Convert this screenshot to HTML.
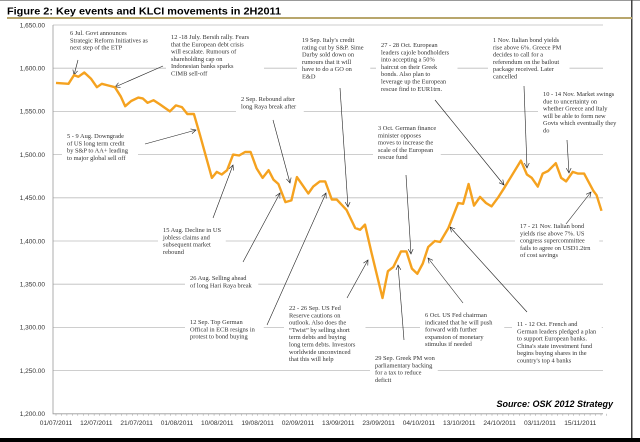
<!DOCTYPE html>
<html><head><meta charset="utf-8"><style>
html,body{margin:0;padding:0;background:#fff;}
svg{display:block;}
text{font-family:"Liberation Sans",sans-serif;}
.ann{font-family:"Liberation Serif",serif;font-size:6.4px;fill:#333;}
</style></head><body>
<svg id="chart" width="640" height="442" viewBox="0 0 640 442" xmlns="http://www.w3.org/2000/svg">
<defs><marker id="ah" markerWidth="6" markerHeight="6" refX="5" refY="3" orient="auto" markerUnits="userSpaceOnUse"><path d="M0,0.5 L5,3 L0,5.5" fill="none" stroke="#222" stroke-width="0.6"/></marker></defs>
<rect x="0" y="0" width="640" height="1" fill="#999"/>
<rect x="631" y="0" width="1.5" height="438" fill="#444"/>
<rect x="0" y="438" width="640" height="4" fill="#000"/>
<text x="7" y="14.5" font-size="10.5" font-weight="bold" fill="#000" textLength="274" lengthAdjust="spacingAndGlyphs">Figure 2: Key events and KLCI movements in 2H2011</text>
<rect x="7" y="17" width="625" height="2" fill="#b8a66c"/>
<g id="grid"></g><g id="axes"></g><g id="annots"></g><g id="series"></g>
<text x="613" y="407" text-anchor="end" font-family="Liberation Serif,serif" font-size="9" font-style="italic" font-weight="bold" fill="#000">Source: OSK 2012 Strategy</text>
</svg>
<script>
const dayIdx=[0,2.3,3.3,4.1,5.2,6.4,7.5,8.4,9.6,10.8,11.9,12.7,13.8,15.1,15.9,16.8,17.9,19.1,20.9,22.0,23.1,24.1,25.3,26.4,28.6,29.5,30.4,31.4,32.5,33.6,34.7,35.7,36.8,37.9,39.0,39.9,40.8,42.1,43.2,44.2,45.2,46.3,47.2,48.4,49.4,50.6,51.5,52.4,53.3,54.9,55.8,56.7,57.9,59.9,60.9,61.9,63.3,64.3,65.3,66.3,67.3,68.3,69.5,70.5,72.0,73.8,74.7,75.7,76.7,77.8,78.9,79.9,81.2,82.2,85.3,86.4,87.3,88.4,89.3,90.3,91.7,92.7,93.6,94.8,95.8,96.9,98.6,99.2,100.1];
const klci=[1583,1582,1592,1590,1595,1588,1578,1582,1580,1578,1567,1556,1562,1566,1565,1560,1563,1558,1550,1557,1555,1547,1547,1523,1473,1480,1477,1482,1500,1499,1503,1503,1484,1473,1482,1471,1466,1445,1447,1474,1465,1455,1463,1469,1469,1448,1448,1442,1436,1415,1413,1419,1386,1334,1365,1370,1388,1388,1368,1362,1374,1393,1400,1399,1415,1444,1443,1466,1441,1451,1444,1440,1451,1461,1493,1477,1473,1463,1478,1481,1490,1473,1469,1480,1478,1478,1458,1453,1435];
const yTicks=[1200,1250,1300,1350,1400,1450,1500,1550,1600,1650];
const yTickLabels=["1,200.00","1,250.00","1,300.00","1,350.00","1,400.00","1,450.00","1,500.00","1,550.00","1,600.00","1,650.00"];
const xLabels=["01/07/2011","12/07/2011","21/07/2011","01/08/2011","10/08/2011","19/08/2011","02/09/2011","13/09/2011","23/09/2011","04/10/2011","13/10/2011","24/10/2011","03/11/2011","15/11/2011"];
const xLabelIdx=[0,7.4,14.8,22.2,29.6,37.0,44.4,51.8,59.2,66.6,74.0,81.4,88.8,96.2];

const NS="http://www.w3.org/2000/svg";
const X=i=>56+i*5.45;
const Y=v=>25+(1650-v)*0.864;
function mk(tag,attrs,parent){const e=document.createElementNS(NS,tag);for(const k in attrs)e.setAttribute(k,attrs[k]);parent.appendChild(e);return e;}
const grid=document.getElementById('grid'),axes=document.getElementById('axes'),ann=document.getElementById('annots'),ser=document.getElementById('series');

yTicks.forEach((v,k)=>{
  if(k>0){const g=mk('line',{x1:53,x2:603,y1:Y(v),y2:Y(v),stroke:'#bdbdbd','stroke-width':0.8},grid);
  
  }
  const t=mk('text',{x:45,y:Y(v)+2.3,'text-anchor':'end','font-size':6.5,fill:'#333'},axes);
  t.textContent=yTickLabels[k];
  
  
});
const ax=mk('path',{d:`M53,${Y(1650)}V${Y(1200)}H603`,fill:'none',stroke:'#999','stroke-width':0.8},axes);


for(let i=0;i<=101;i++){const tk=mk('line',{x1:X(i),x2:X(i),y1:Y(1200),y2:Y(1200)+2,stroke:'#999','stroke-width':0.5},axes);
  
  }
xLabels.forEach((l,k)=>{const t=mk('text',{x:X(xLabelIdx[k]),y:425,'text-anchor':'middle','font-size':6.6,fill:'#333'},axes);
  t.textContent=l;
  
  });

const notes=[
 {x:70,y:35,l:["6 Jul. Govt announces","Strategic Reform Initiatives as","next step of the ETP"],a:[78,60,74,75]},
 {x:171,y:39,l:["12 -18 July. Bersih rally. Fears","that the European debt crisis","will escalate. Rumours of","shareholding cap on","Indonesian banks sparks","CIMB sell-off"],a:[163,66,115,87]},
 {x:302,y:42,l:["19 Sep. Italy's credit","rating cut by S&P. Sime","Darby sold down on","rumours that it will","have to do a GO on","E&D"],a:[340,88,348,207]},
 {x:241,y:101,l:["2 Sep. Rebound after","long Raya break after"],a:[273,120,290,183]},
 {x:381,y:47,l:["27 - 28 Oct. European","leaders cajole bondholders","into accepting a 50%","haircut on their Greek","bonds. Also plan to","leverage up the European","rescue find to EUR1trn."],a:[435,100,504,185]},
 {x:493,y:42,l:["1 Nov. Italian bond yields","rise above 6%. Greece PM","decides to call for a","referendum on the bailout","package received. Later","cancelled"],a:[524,86,527,168]},
 {x:543,y:96,l:["10 - 14 Nov. Market swings","due to uncertainty on","whether Greece and Italy","will be able to form new","Govts which eventually they","do"],a:[567,140,569,173]},
 {x:378,y:130,l:["3 Oct. German finance","minister opposes","moves to increase the","scale of the European","rescue fund"],a:[406,175,411,254]},
 {x:67,y:138,l:["5 - 9 Aug. Downgrade","of US long term credit","by S&P to AA+ leading","to major global sell off"],a:[145,144,196,130]},
 {x:163,y:232,l:["15 Aug. Decline in US","jobless claims and","subsequent market","rebound"],a:[213,218,233,165]},
 {x:190,y:280,l:["26 Aug. Selling ahead","of long Hari Raya break"],a:[243,262,280,193]},
 {x:190,y:324,l:["12 Sep. Top German","Offical in ECB resigns in","protest to bond buying"],a:[267,325,326,193]},
 {x:289,y:310,l:["22 - 26 Sep. US Fed","Reserve cautions on","outlook. Also does the","\u201cTwist\u201d by selling short","term debts and buying","long term debts. Investors","worldwide unconvinced","that this will help"],a:[347,298,368,260]},
 {x:375,y:360,l:["29 Sep. Greek PM won","parliamentary backing","for a tax to reduce","deficit"],a:[404,340,398,265]},
 {x:425,y:317,l:["6 Oct. US Fed chairman","indicated that he will push","forward with further","expansion of monetary","stimulus if needed"],a:[463,303,428,258]},
 {x:517,y:326,l:["11 - 12 Oct. French and","German leaders pledged a plan","to support European banks.","China's state investment fund","begins buying shares in the","country's top 4 banks"],a:[527,312,450,227]},
 {x:520,y:228,l:["17 - 21 Nov. Italian bond","yields rise above 7%. US","congress supercommittee","fails to agree on USD1.2trn","of cost savings"],a:[566,224,591,192]}
];
notes.forEach((n,k)=>{
  const w=Math.max(...n.l.map(s=>s.length))*2.75+10;
  const bg=mk('rect',{x:n.x-5,y:n.y-7,width:w,height:n.l.length*7.3+5,fill:'#fff'},ann);
  
  
  const t=mk('text',{class:'ann',x:n.x,y:n.y},ann);
  
  
  n.l.forEach((s,j)=>{const ts=mk('tspan',{x:n.x,y:n.y+j*7.3},t);ts.textContent=s;});
  const ar=mk('line',{x1:n.a[0],y1:n.a[1],x2:n.a[2],y2:n.a[3],stroke:'#222','stroke-width':0.6,'marker-end':'url(#ah)'},ann);
  
  
});
const d=dayIdx.map((i,k)=>(k?'L':'M')+X(i).toFixed(1)+','+Y(klci[k]).toFixed(1)).join('');
const line=mk('path',{d:d,fill:'none',stroke:'#f5a21f','stroke-width':2.4,'stroke-linejoin':'round'},ser);


</script>
</body></html>
